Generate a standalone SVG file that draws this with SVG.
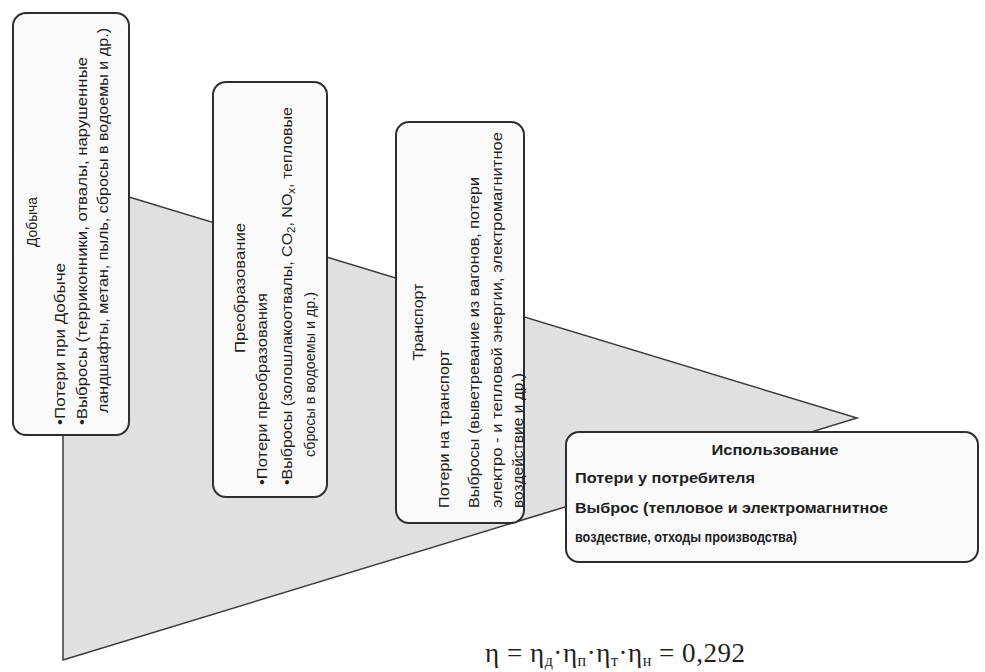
<svg xmlns="http://www.w3.org/2000/svg" width="985" height="672" viewBox="0 0 985 672">
<style>
.bg{fill:#ffffff}
.tri{fill:#e0e0e0;stroke:#3a3a3a;stroke-width:1.5}
.box{fill:#fafafa;stroke:#2e2e2e;stroke-width:2}
.t{font-family:"Liberation Sans",Arial,sans-serif;font-size:14px;fill:#1e1e1e}
.tb{font-family:"Liberation Sans",Arial,sans-serif;font-size:14px;font-weight:bold;fill:#1e1e1e}
.f{font-family:"Liberation Serif","Times New Roman",serif;font-size:27px;fill:#1e1e1e}
.fs{font-size:16px}
</style>
<rect class="bg" x="0" y="0" width="985" height="672"/>
<g id="connectors">
<polygon id="funnel" class="tri" points="63,177 857,418 63,660"/>
</g>
<g id="node-dobycha">
<rect class="box" x="13" y="13" width="116" height="422" rx="13"/>
<text class="t" text-anchor="middle" transform="translate(37,222) rotate(-90)" textLength="50" lengthAdjust="spacingAndGlyphs">Добыча</text>
<text class="t" transform="translate(65,425) rotate(-90)" textLength="162" lengthAdjust="spacingAndGlyphs">•Потери при Добыче</text>
<text class="t" transform="translate(87,425) rotate(-90)" textLength="368" lengthAdjust="spacingAndGlyphs">•Выбросы (терриконники, отвалы, нарушенные</text>
<text class="t" transform="translate(108,413) rotate(-90)" textLength="385" lengthAdjust="spacingAndGlyphs">ландшафты, метан, пыль, сбросы в водоемы и др.)</text>
</g>
<g id="node-preobrazovanie">
<rect class="box" x="213" y="82" width="114" height="415" rx="13"/>
<text class="t" text-anchor="middle" transform="translate(245,288) rotate(-90)" textLength="130" lengthAdjust="spacingAndGlyphs">Преобразование</text>
<text class="t" transform="translate(267,485) rotate(-90)" textLength="192" lengthAdjust="spacingAndGlyphs">•Потери преобразования</text>
<text class="t" transform="translate(292,485) rotate(-90)" textLength="378" lengthAdjust="spacingAndGlyphs">•Выбросы (золошлакоотвалы, CO<tspan font-size="10" dy="3">2</tspan><tspan dy="-3">, NO</tspan><tspan font-size="10" dy="3">x</tspan><tspan dy="-3">, тепловые</tspan></text>
<text class="t" transform="translate(315,457) rotate(-90)" textLength="165" lengthAdjust="spacingAndGlyphs">сбросы в водоемы и др.)</text>
</g>
<g id="node-transport">
<rect class="box" x="396" y="122" width="128" height="401" rx="13"/>
<text class="t" text-anchor="middle" transform="translate(423,322) rotate(-90)" textLength="77" lengthAdjust="spacingAndGlyphs">Транспорт</text>
<text class="t" transform="translate(449,508) rotate(-90)" textLength="158" lengthAdjust="spacingAndGlyphs">Потери на транспорт</text>
<text class="t" transform="translate(479,508) rotate(-90)" textLength="331" lengthAdjust="spacingAndGlyphs">Выбросы (выветревание из вагонов, потери</text>
<text class="t" transform="translate(502,508) rotate(-90)" textLength="376" lengthAdjust="spacingAndGlyphs">электро - и тепловой энергии, электромагнитное</text>
<text class="t" transform="translate(523,508) rotate(-90)" textLength="135" lengthAdjust="spacingAndGlyphs">воздействие и др.)</text>
</g>
<g id="node-ispolzovanie">
<rect class="box" x="566" y="432" width="412" height="130" rx="13"/>
<text class="tb" x="775" y="455" text-anchor="middle" textLength="127" lengthAdjust="spacingAndGlyphs">Использование</text>
<text class="tb" x="575" y="483" textLength="180" lengthAdjust="spacingAndGlyphs">Потери у потребителя</text>
<text class="tb" x="575" y="513" textLength="313" lengthAdjust="spacingAndGlyphs">Выброс (тепловое и электромагнитное</text>
<text class="tb" x="575" y="542" textLength="222" lengthAdjust="spacingAndGlyphs">воздествие, отходы производства)</text>
</g>
<g id="formula">
<text class="f" x="485" y="662" textLength="260" lengthAdjust="spacing">η = η<tspan class="fs" dy="4">д</tspan><tspan dy="-4">·η</tspan><tspan class="fs" dy="4">п</tspan><tspan dy="-4">·η</tspan><tspan class="fs" dy="4">т</tspan><tspan dy="-4">·η</tspan><tspan class="fs" dy="4">н</tspan><tspan dy="-4"> = 0,292</tspan></text>
</g>
</svg>
